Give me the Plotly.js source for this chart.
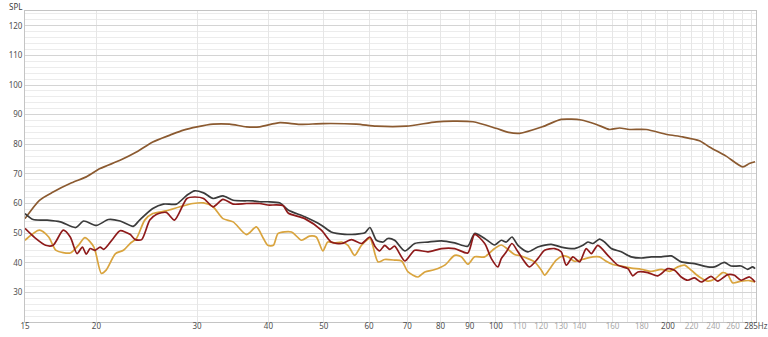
<!DOCTYPE html>
<html>
<head>
<meta charset="utf-8">
<script src="https://cdn.plot.ly/plotly-3.0.1.min.js"></script>
<style>html,body{margin:0;padding:0;background:#fff;}#chart{width:768px;height:337px;}</style>
</head>
<body>
<div id="chart"></div>
<script>
// X tick labels (Hz)
const xTickVals = [15,20,30,40,50,60,70,80,90,100,110,120,130,140,160,180,200,220,240,260,285];
const xTickDark = [15,20,30,40,50,60,70,80,90,100,200,285];
const xGridMedium = [20,30,40,50,60,70,80,90];
const xGridDark = [100,200];
const xGridLight = [110,120,130,140,150,160,170,180,190,210,220,230,240,250,260,270,280];
const yTickVals = [30,40,50,60,70,80,90,100,110,120];

// Brown curve
const brownFreq = [15,15.9,16.8,18.1,19.2,20.3,22.0,23.5,25.1,26.9,28.4,30,32,34.2,36.6,38.6,41.9,45.4,49.8,57,61.8,69.7,78.7,84.2,91.2,100,105.3,110,120.6,130.1,141.1,150,158.1,164.6,171.3,183.3,199.3,212.3,227.1,236.4,252.8,270.3,277.7,284.1];
const brownSpl = [54.9,61.1,63.9,67.0,69.0,71.8,74.6,77.4,80.8,83.1,84.8,85.9,86.8,86.8,85.9,85.9,87.3,86.7,87.0,86.8,86.1,86.1,87.6,87.8,87.6,85.4,84.0,83.7,85.9,88.4,88.2,86.7,85.0,85.5,85.0,85.0,83.3,82.5,81.2,79.1,76.0,72.4,73.5,74.1];

// Dark grey curve
const greyFreq = [15,15.5,16.4,17.3,18.4,19.0,20,21,22,23.2,23.8,25.1,26.2,27.6,28.8,29.7,30.8,32,33.3,34.7,37.6,38.6,39.9,41.9,43.3,46.3,49.5,51.5,54.4,56.6,59.0,60.2,61.8,63.5,64.7,66.5,69.3,72.1,76.1,80.3,84.7,89.3,91.8,95.6,99.5,102.2,104.3,106.7,109.3,113.8,118.4,125,130.1,137.3,142,144.9,147.8,151.8,154.9,159.2,165.7,172.5,179.6,187,194.7,202.7,211,222.6,234.8,241.2,251.1,258,268.6,275.8,281.4,284.1];
const greySpl = [56.6,54.6,54.4,53.8,51.9,54.1,52.6,54.6,54.1,52.3,54.4,58.3,59.8,59.8,62.8,64.3,63.6,61.7,62.6,61.1,60.9,60.6,60.6,60.2,57.8,55.5,52.7,50.4,49.6,49.6,50.1,51.9,47.6,47.0,48.2,47.6,44.0,46.5,47.0,47.4,46.7,45.6,49.9,48.2,46.0,47.6,47.0,48.7,45.9,43.7,45.3,46.2,45.3,44.8,45.9,47.0,46.5,48.0,47.0,44.8,43.7,42.0,41.6,42.0,42.0,42.3,40.3,39.7,38.6,38.6,40.1,38.9,38.9,37.8,38.6,38.0];

// Dark red curve
const redFreq = [15,15.6,16.3,16.8,17.5,18.0,18.5,18.9,19.2,19.5,19.9,20.3,20.6,21.4,22.0,22.9,23.4,24.0,24.8,25.5,26.5,27.4,28.8,29.7,30.8,32,33.3,34.7,36.6,38.6,39.9,42.4,43.3,46.3,49.5,51.5,53.7,55.9,58.2,60.2,61.4,62.6,63.9,65.2,66.5,69.3,72.1,76.1,80.3,84.7,89.3,91.8,95.6,98.2,100.8,102.2,104.3,106.7,109.3,112.3,114.5,118.4,121.7,126.7,130.1,132.8,136.4,140.1,143.9,146.9,150.8,157,163.4,170.2,173.6,177.2,184.4,192,199.9,205.4,211,216.7,222.6,228.7,238,244.4,254.5,261.4,268.6,277.7,284.1];
const redSpl = [51.6,48.5,45.9,45.9,51.0,48.7,43.1,45.3,42.9,44.8,44.2,45.3,44.5,48.2,50.8,49.6,47.8,47.8,54.4,56.4,57.0,54.4,61.7,62.2,61.7,58.9,61.4,59.8,60.0,60.0,59.5,59.3,56.8,54.9,51.0,47.0,46.5,47.8,46.5,48.7,45.6,44.0,45.9,44.5,45.6,40.6,44.2,43.7,44.8,44.8,43.3,49.6,46.5,41.4,38.6,41.4,43.7,46.5,43.7,40.3,38.6,41.4,44.2,44.8,43.7,39.2,42.0,40.3,44.8,43.1,45.9,42.5,39.2,38.0,35.6,36.9,36.7,35.6,38.0,37.5,35.2,34.1,34.9,33.5,35.4,33.8,36.0,35.8,34.1,35.2,33.5];

// Gold curve
const goldFreq = [15,15.9,16.5,17.0,18.0,18.6,19.1,19.8,20.4,20.8,21.6,22.3,22.9,23.5,24.3,25.1,26.5,28.0,29.5,30.8,32,33.3,34.7,36.6,38.1,39.2,39.9,40.8,41.6,43.9,45.7,47.2,48.5,49.8,50.8,52.2,53.7,55.1,56.6,58.2,60.2,62.2,63.9,66.5,68.4,70.2,73.1,75.1,78.2,81.4,84.7,87.0,89.3,91.8,95.6,99.5,102.2,105,107.8,110.8,113.8,116.9,120.1,121.7,124.1,127.5,131,133.7,137.3,142,147.8,151.8,156,160.2,165.7,172.5,179.6,187,194.7,201.3,208.1,213.8,219.6,227.1,234.8,241.2,249.4,254.5,259.7,268.6,277.7,284.1];
const goldSpl = [47.6,51.0,48.7,44.2,43.3,45.9,48.5,45.3,36.4,37.5,43.1,44.2,46.5,48.2,54.4,56.6,57.5,58.9,60.0,60.2,58.9,54.9,53.8,49.5,52.1,48.2,45.9,45.9,49.9,50.4,47.6,49.0,48.7,44.0,47.0,46.7,47.0,45.9,42.5,45.9,48.2,40.3,41.1,40.9,40.6,36.9,35.2,36.9,37.7,39.2,42.5,42.0,39.5,42.0,42.0,44.8,46.0,44.5,42.8,42.3,41.4,40.3,37.5,35.8,37.8,40.9,42.3,42.0,40.5,41.2,42.0,42.0,40.5,39.4,38.9,38.2,37.8,37.1,37.8,37.1,38.6,39.2,37.5,35.2,33.8,34.4,36.7,36.0,33.2,33.8,34.0,33.5];

const xTickText = xTickVals.map(v => {
  const label = v === 285 ? '285Hz' : String(v);
  return xTickDark.includes(v) ? label : '<span style="color:#a8a8a8">' + label + '</span>';
});

function curve(x, y, color) {
  return {x: x, y: y, type: 'scatter', mode: 'lines',
          line: {color: color, width: 1.7, shape: 'spline', smoothing: 0.7},
          hoverinfo: 'skip', showlegend: false};
}

const data = [
  curve(brownFreq, brownSpl, '#8b5a30'),
  curve(greyFreq, greySpl, '#3b3b3b'),
  curve(goldFreq, goldSpl, '#d9a43e'),
  curve(redFreq, redSpl, '#8e1a1a')
];

const xRange = [Math.log10(15), Math.log10(285.2)];
const layout = {
  width: 768, height: 337,
  margin: {l: 25, r: 12, t: 11, b: 15},
  paper_bgcolor: '#ffffff', plot_bgcolor: '#ffffff',
  font: {family: 'Noto Sans, DejaVu Sans, sans-serif', size: 8, color: '#505050'},
  xaxis: {
    type: 'log', range: xRange, tickmode: 'array', tickvals: xTickVals, ticktext: xTickText,
    showgrid: true, gridcolor: '#e6e6e6', gridwidth: 1,
    minor: {tickmode: 'array', tickvals: xGridLight, showgrid: true, gridcolor: '#e6e6e6', ticks: ''},
    ticks: '', showline: true, mirror: true, linecolor: '#c4c4c4', linewidth: 1,
    ticklabelstandoff: -4, ticklabeloverflow: 'allow',
    zeroline: false, tickfont: {size: 8, color: '#505050'}, fixedrange: true
  },
  xaxis2: {
    type: 'log', range: xRange, overlaying: 'x', anchor: 'y', tickmode: 'array', tickvals: xGridMedium,
    showticklabels: false, showgrid: true, gridcolor: '#d6d6d6', ticks: '', showline: false, zeroline: false
  },
  xaxis3: {
    type: 'log', range: xRange, overlaying: 'x', anchor: 'y', tickmode: 'array', tickvals: xGridDark,
    showticklabels: false, showgrid: true, gridcolor: '#b8b8b8', ticks: '', showline: false, zeroline: false
  },
  yaxis: {
    range: [20, 125], tickmode: 'array', tickvals: yTickVals,
    showgrid: true, gridcolor: '#d4d4d4',
    minor: {tickmode: 'linear', tick0: 20, dtick: 2, showgrid: true, gridcolor: '#ececec', ticks: ''},
    ticks: '', showline: true, mirror: true, linecolor: '#c4c4c4', linewidth: 1,
    zeroline: false, tickfont: {size: 8, color: '#505050'}, fixedrange: true
  },
  annotations: [{
    text: 'SPL', xref: 'paper', yref: 'paper', x: 0, y: 1, xanchor: 'right', yanchor: 'bottom',
    xshift: -1, yshift: -3, showarrow: false, font: {size: 8, color: '#404040'}
  }]
};

Plotly.newPlot('chart', data, layout, {displayModeBar: false, staticPlot: true});
</script>
</body>
</html>
